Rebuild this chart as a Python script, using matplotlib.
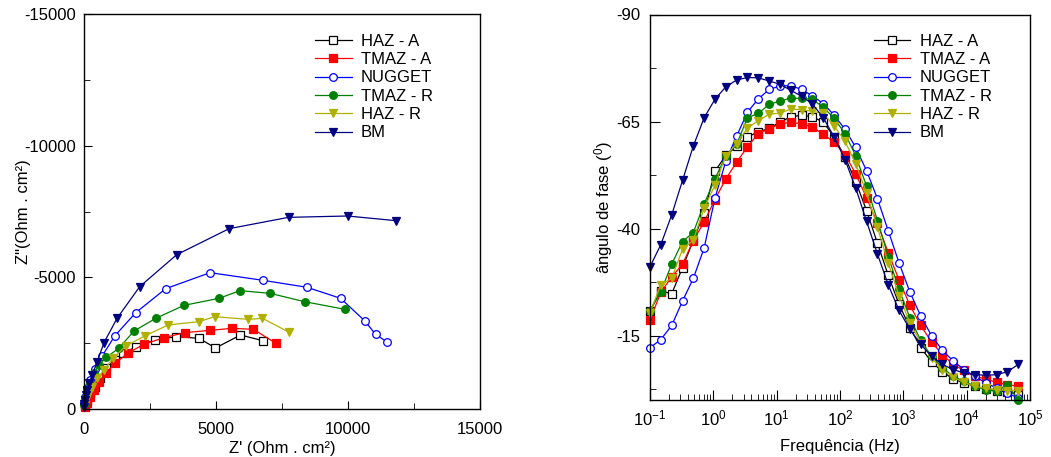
import matplotlib
matplotlib.use("Agg")
import matplotlib.pyplot as plt

plt.rcParams['font.family'] = ['Liberation Sans', 'DejaVu Sans']
plt.rcParams['mathtext.default'] = 'regular'
plt.rcParams['axes.unicode_minus'] = False

labels = ['HAZ - A', 'TMAZ - A', 'NUGGET', 'TMAZ - R', 'HAZ - R', 'BM']

# Nyquist: Z' e Z'' (Ohm.cm2)
nyq_haz_a_re = [6774, 5927, 4980, 4360, 3488, 2692, 1984, 1479, 1163, 847, 594, 404, 240, 114, 38]
nyq_haz_a_im = [-2595, -2810, -2316, -2684, -2747, -2620, -2367, -2114, -1861, -1544, -1165, -848, -595, -342, -114]
nyq_tmaz_a_re = [7267, 6420, 5598, 4777, 3817, 3033, 2262, 1656, 1175, 821, 569, 366, 215, 114, 38]
nyq_tmaz_a_im = [-2494, -3025, -3063, -2987, -2899, -2709, -2456, -2114, -1734, -1354, -1038, -722, -468, -241, -63]
nyq_nugget_re = [11462, 11045, 10628, 9718, 8454, 6786, 4777, 3096, 1959, 1163, 695, 404, 215, 114, 51, 13]
nyq_nugget_im = [-2557, -2835, -3354, -4203, -4620, -4886, -5177, -4570, -3658, -2772, -2025, -1506, -1101, -785, -468, -215]
nyq_tmaz_r_re = [9883, 8353, 7052, 5902, 5118, 3791, 2717, 1896, 1314, 847, 556, 379, 215, 114, 51, 13]
nyq_tmaz_r_im = [-3785, -4076, -4392, -4494, -4203, -3937, -3443, -2962, -2304, -1962, -1671, -1354, -1000, -722, -405, -152]
nyq_haz_r_re = [7772, 6761, 6218, 4954, 4347, 3185, 2300, 1580, 1099, 758, 506, 316, 190, 88, 38]
nyq_haz_r_im = [-2911, -3443, -3405, -3506, -3316, -3190, -2772, -2392, -1924, -1481, -1165, -848, -595, -342, -152]
nyq_bm_re = [11816, 9984, 7747, 5497, 3513, 2110, 1251, 758, 493, 316, 190, 114, 63, 38, 13, 0]
nyq_bm_im = [-7152, -7329, -7278, -6848, -5861, -4646, -3443, -2519, -1785, -1291, -975, -722, -532, -342, -190, -63]

# Bode: frequencia (Hz) e angulo de fase (graus)
freq = [0.1, 0.148, 0.22, 0.326, 0.483, 0.716, 1.06, 1.57, 2.33, 3.46, 5.13, 7.6,
        11.3, 16.7, 24.8, 36.7, 54.5, 80.7, 120, 177, 263, 390, 578, 857,
        1270, 1884, 2793, 4140, 6138, 9100, 13490, 20000, 29650, 43950, 65160]
fase_haz_a = [-20.8, -25.5, -24.8, -30.9, -37.3, -43.7, -53.4, -57.1, -59.2, -61.4, -62.6, -63.4,
              -64.9, -66.1, -66.5, -66.1, -64.9, -61.4, -56.7, -51.0, -44.2, -36.6, -29.1, -22.3,
              -16.9, -12.2, -8.9, -6.6, -4.9, -4.0, -3.2, -2.6, -2.2, -1.9, -1.25]
fase_tmaz_a = [-18.7, -25.1, -28.75, -31.7, -37.2, -41.6, -46.8, -51.6, -55.5, -59.1, -62.2, -63.3,
               -64.5, -64.8, -64.5, -63.75, -62.0, -60.2, -57.3, -52.8, -47.2, -41.25, -34.4, -28.0,
               -22.1, -17.4, -13.5, -10.6, -8.3, -6.9, -5.5, -4.9, -4.1, -3.6, -3.2]
fase_nugget = [-12.2, -14.1, -17.4, -23.1, -28.4, -35.5, -47.1, -55.7, -61.6, -67.2, -70.3, -72.5,
               -73.3, -73.4, -72.5, -71.0, -69.2, -66.5, -63.2, -59.0, -53.5, -47.0, -39.5, -32.0,
               -25.2, -19.6, -15.0, -11.6, -9.1, -7.1, -5.5, -4.0, -2.8, -1.6, -0.5]
fase_tmaz_r = [-20.8, -25.3, -31.7, -37.0, -39.1, -45.8, -51.6, -57.0, -59.7, -65.9, -66.9, -69.0,
               -69.8, -70.5, -70.4, -70.2, -68.3, -65.8, -62.2, -57.0, -49.9, -41.9, -33.5, -25.8,
               -19.2, -13.9, -10.2, -7.5, -5.5, -4.4, -3.2, -2.4, -2.0, -3.6, -0.1]
fase_haz_r = [-20.4, -26.9, -28.4, -35.2, -37.3, -44.8, -50.2, -57.0, -59.8, -63.5, -65.2, -66.7,
              -67.0, -67.9, -67.8, -67.4, -66.9, -64.0, -60.4, -55.2, -48.3, -40.3, -32.0, -24.3,
              -18.0, -13.4, -9.8, -7.1, -5.3, -4.1, -3.2, -2.7, -2.4, -2.2, -2.2]
fase_bm = [-31.1, -36.25, -43.2, -51.25, -59.3, -65.9, -70.2, -73.1, -74.7, -75.3, -75.2, -74.5,
           -73.7, -72.3, -70.9, -69.1, -65.9, -61.4, -56.1, -49.5, -41.7, -34.1, -26.9, -20.9,
           -16.5, -13.0, -10.2, -8.3, -7.1, -6.3, -5.9, -5.8, -5.9, -6.6, -8.3]

estilos = [
    dict(color='black', marker='s', mfc='white', mec='black'),
    dict(color='#ff0000', marker='s', mfc='#ff0000', mec='#ff0000'),
    dict(color='#0000ff', marker='o', mfc='white', mec='#0000ff'),
    dict(color='#008000', marker='o', mfc='#008000', mec='#008000'),
    dict(color='#b0b000', marker='v', mfc='#b0b000', mec='#b0b000'),
    dict(color='#000080', marker='v', mfc='#000080', mec='#000080'),
]

nyq = [(nyq_haz_a_re, nyq_haz_a_im), (nyq_tmaz_a_re, nyq_tmaz_a_im), (nyq_nugget_re, nyq_nugget_im),
       (nyq_tmaz_r_re, nyq_tmaz_r_im), (nyq_haz_r_re, nyq_haz_r_im), (nyq_bm_re, nyq_bm_im)]
fases = [fase_haz_a, fase_tmaz_a, fase_nugget, fase_tmaz_r, fase_haz_r, fase_bm]

fig = plt.figure(figsize=(10.51, 4.57), dpi=100)
ax1 = fig.add_axes([84 / 1051, 1 - 409 / 457, 396 / 1051, 395 / 457])
ax2 = fig.add_axes([650 / 1051, 1 - 400 / 457, 380 / 1051, 385.5 / 457])

fs = 12
leg_kw = dict(loc='upper left', frameon=False, fontsize=fs, numpoints=1, handlelength=2.2,
              handletextpad=0.55, labelspacing=0.2, borderpad=0, borderaxespad=0)

for (re, im), lab, st in zip(nyq, labels, estilos):
    ax1.plot(re, im, lw=0.9, ms=5.5, mew=0.9, label=lab, clip_on=False, **st)

ax1.set_xlim(0, 15000)
ax1.set_ylim(0, -15000)
ax1.set_xticks([0, 5000, 10000, 15000])
ax1.set_xticks([2500, 7500, 12500], minor=True)
ax1.set_yticks([0, -5000, -10000, -15000])
ax1.set_yticks([-2500, -7500, -12500], minor=True)
ax1.tick_params(which='both', direction='in', labelsize=fs, top=False, right=False)
ax1.tick_params(which='major', length=6, pad=6)
ax1.tick_params(which='minor', length=4)
ax1.tick_params(axis='x', pad=9)
ax1.set_xlabel("Z' (Ohm . cm²)", fontsize=fs, labelpad=3)
ax1.set_ylabel('Z"(Ohm . cm²)', fontsize=fs)
ax1.yaxis.set_label_coords(-0.135, 0.5)
ax1.legend(bbox_to_anchor=(0.583, 0.95), **leg_kw)

for f, lab, st in zip(fases, labels, estilos):
    ax2.plot(freq, f, lw=0.9, ms=5.5, mew=0.9, label=lab, clip_on=False, **st)

ax2.set_xscale('log')
ax2.set_xlim(0.1, 1e5)
ax2.set_ylim(0, -90)
ax2.set_yticks([-90, -65, -40, -15])
ax2.set_yticks([-77.5, -52.5, -27.5, -2.5], minor=True)
ax2.tick_params(which='both', direction='in', labelsize=fs, top=False, right=False)
ax2.tick_params(which='major', length=7, pad=7)
ax2.tick_params(which='minor', length=4)
ax2.tick_params(axis='x', pad=6)
ax2.set_xlabel('Frequência (Hz)', fontsize=fs, labelpad=8)
ax2.set_ylabel('ângulo de fase ($^0$)', fontsize=fs, labelpad=1)
ax2.legend(bbox_to_anchor=(0.589, 0.95), **leg_kw)

for ax in (ax1, ax2):
    for s in ax.spines.values():
        s.set_linewidth(1.0)

fig.savefig('out.png', dpi=100)
